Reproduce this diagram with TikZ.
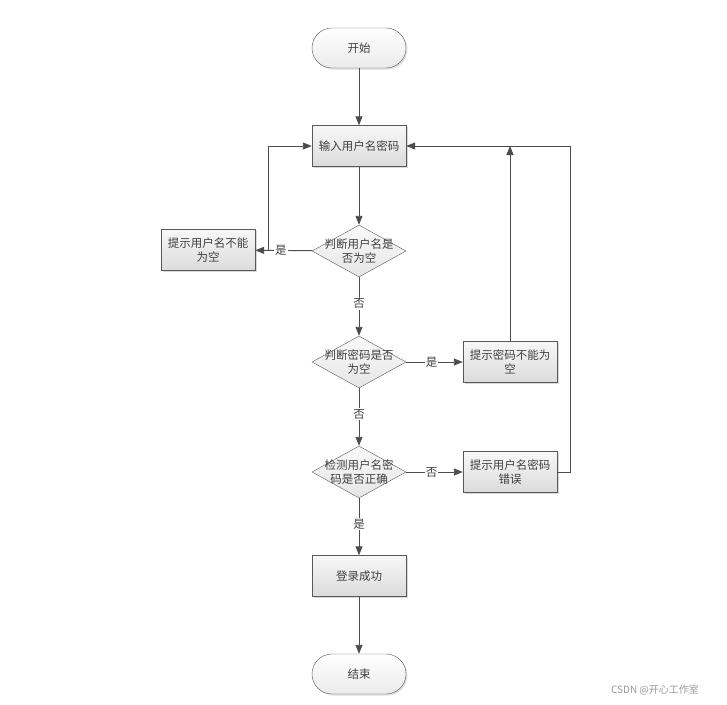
\documentclass[tikz,border=0pt]{standalone}
\usepackage{fontspec}
\setmainfont{Noto Sans CJK SC}
\usepackage{tikz}
\usetikzlibrary{arrows.meta, positioning, shapes.geometric, shadows}

\begin{document}
\begin{tikzpicture}[
  x=1pt, y=-1pt,
  every node/.style={font=\fontsize{11.5}{14}\selectfont, text=black!75},
  terminal/.style={rectangle, rounded corners=20pt, draw=black!65, top color=white, bottom color=black!8,
                   minimum width=94pt, minimum height=40pt, drop shadow={opacity=0.25, shadow xshift=1.5pt, shadow yshift=-1.5pt}},
  process/.style={rectangle, draw=black!65, top color=black!3, bottom color=black!14, text width=88pt, align=center,
                  minimum width=94pt, minimum height=41pt, inner sep=2pt,
                  drop shadow={opacity=0.3, shadow xshift=1.5pt, shadow yshift=-1.5pt}},
  decision/.style={diamond, draw=black!65, top color=black!2, bottom color=black!10, minimum width=94pt, minimum height=52pt,
                   inner sep=0pt},
  dtext/.style={text width=76pt, align=center, font=\fontsize{11.5}{14}\selectfont},
  arrow/.style={-{Triangle[length=9pt, width=7pt]}, draw=black!70, line width=0.9pt},
  lbl/.style={fill=white, inner sep=1pt},
]
\useasboundingbox (0,0) rectangle (727,704);

% Start
\node[terminal] (start) at (359, 48) {开始};

% Input
\node[process] (input) at (359, 146) {输入用户名密码};
\draw[arrow] (start) -- (input);

% Decision 1: username empty?
\node[decision] (d1) at (359, 251) {};
\node[dtext] (d1t) at (d1) {判断用户名是\\否为空};
\draw[arrow] (input) -- (d1);

\node[process] (tipuser) at (208, 250) {提示用户名不能\\为空};
\draw[arrow] (d1) -- node[lbl, pos=0.55] {是} (tipuser);
\coordinate (back1) at (268, 250);
\draw[arrow] (back1) |- (input.west);

% Decision 2: password empty?
\node[decision] (d2) at (359, 362) {};
\node[dtext] (d2t) at (d2) {判断密码是否\\为空};
\draw[arrow] (d1) -- node[lbl, pos=0.45] {否} (d2);

\node[process] (tippass) at (510, 362) {提示密码不能为\\空};
\draw[arrow] (d2) -- node[lbl, pos=0.45] {是} (tippass);
\coordinate (back2) at (510, 146);
\draw[arrow] (tippass) -- (back2);

% Decision 3: check username and password
\node[decision] (d3) at (359, 472) {};
\node[dtext] (d3t) at (d3) {检测用户名密\\码是否正确};
\draw[arrow] (d2) -- node[lbl, pos=0.45] {否} (d3);

\node[process] (tiperr) at (510, 472) {提示用户名密码\\错误};
\draw[arrow] (d3) -- node[lbl, pos=0.45] {否} (tiperr);
\coordinate (back3) at (570, 472);
\draw[arrow] (tiperr) -- (back3) |- (input.east);

% Success
\node[process] (ok) at (359, 576) {登录成功};
\draw[arrow] (d3) -- node[lbl, pos=0.45] {是} (ok);

% End
\node[terminal] (stop) at (359, 674) {结束};
\draw[arrow] (ok) -- (stop);

% Watermark
\node[text=black!40, font=\fontsize{10}{12}\selectfont] (mark) at (655, 690) {CSDN @开心工作室};

\end{tikzpicture}
\end{document}
